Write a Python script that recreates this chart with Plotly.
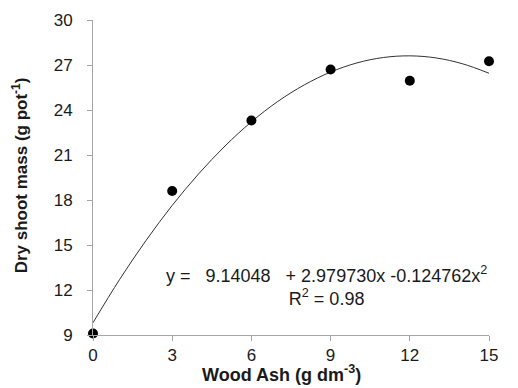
import plotly.graph_objects as go

# Observed data
wood_ash = [0, 3, 6, 9, 12, 15]
dry_mass = [9.1, 18.6, 23.3, 26.7, 25.95, 27.25]

# Fitted curve
curve_x = [0, 1, 2, 3, 4, 5, 6, 7, 8, 9, 10, 11, 12, 13, 14, 15]
curve_y = [9.82, 12.68, 15.28, 17.64, 19.74, 21.60, 23.21, 24.57,
           25.67, 26.53, 27.14, 27.50, 27.61, 27.47, 27.08, 26.45]

x_ticks = [0, 3, 6, 9, 12, 15]
y_ticks = [9, 12, 15, 18, 21, 24, 27, 30]

NB = "\u00a0"
equation = ("y =" + NB * 3 + "9.14048" + NB * 3 + "+ 2.979730x" + NB + "-0.124762x<sup>2</sup>"
            "<br>R<sup>2</sup> = 0.98")
x_title = "Wood Ash (g dm<sup>-3</sup>)"
y_title = "Dry shoot mass (g pot<sup>-1</sup>)"

FONT = "Liberation Sans, Arial, sans-serif"

fig = go.Figure()
fig.add_trace(go.Scatter(x=curve_x, y=curve_y, mode="lines",
                         line=dict(color="#333333", width=1, shape="spline"),
                         hoverinfo="skip", showlegend=False))
fig.add_trace(go.Scatter(x=wood_ash, y=dry_mass, mode="markers",
                         marker=dict(color="black", size=10),
                         cliponaxis=False, showlegend=False))

axis_common = dict(showgrid=False, zeroline=False, showline=True,
                   linecolor="#a6a6a6", linewidth=1, ticks="outside",
                   tickcolor="#a6a6a6", ticklen=5, tickwidth=1,
                   tickfont=dict(family=FONT, size=17, color="#1a1a1a"))

fig.update_xaxes(range=[0, 15], tickvals=x_ticks, ticklabelstandoff=0, **axis_common)
fig.update_yaxes(range=[9, 30], tickvals=y_ticks, ticklabelstandoff=11, **axis_common)

fig.add_annotation(text=equation, xref="x", yref="y", x=8.85, y=12.3,
                   showarrow=False, align="center", xanchor="center", yanchor="middle",
                   font=dict(family=FONT, size=18, color="#1a1a1a"))
fig.add_annotation(text="<b>" + x_title + "</b>", xref="paper", yref="paper",
                   x=0.475, y=-0.123, showarrow=False, xanchor="center", yanchor="middle",
                   font=dict(family=FONT, size=18, color="#1a1a1a"))
fig.add_annotation(text="<b>" + y_title + "</b>", xref="paper", yref="paper",
                   x=-0.185, y=0.506, showarrow=False, xanchor="center", yanchor="middle",
                   textangle=-90,
                   font=dict(family=FONT, size=17, color="#1a1a1a"))

fig.update_layout(width=518, height=388, margin=dict(l=93, r=29, t=20, b=53),
                  plot_bgcolor="white", paper_bgcolor="white")

fig.write_html("out.html")
